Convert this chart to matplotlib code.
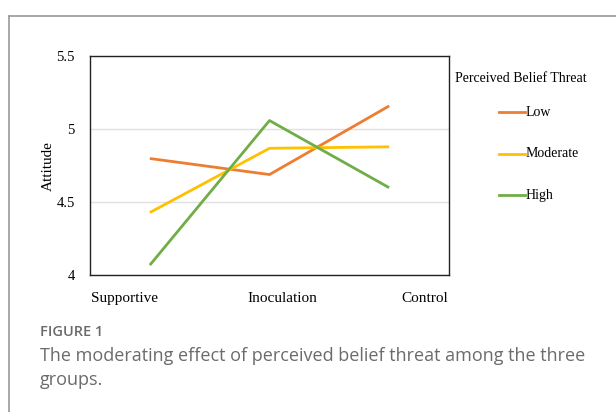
import matplotlib.pyplot as plt
from matplotlib.lines import Line2D

# Data
groups = ['Supportive', 'Inoculation', 'Control']
low = [4.80, 4.69, 5.16]
moderate = [4.43, 4.87, 4.88]
high = [4.07, 5.06, 4.60]
series_names = ['Low', 'Moderate', 'High']
y_ticks = [4, 4.5, 5, 5.5]
y_tick_labels = ['4', '4.5', '5', '5.5']

colors = ['#ED7D31', '#FFC000', '#70AD47']
serif = ['Liberation Serif', 'DejaVu Serif']

fig = plt.figure(figsize=(6.16, 4.12), dpi=100)
W, H = 616, 412

# Outer page frame (left and top edge)
fig.add_artist(Line2D([9 / W, 9 / W], [0, 1 - 16 / H], color='#9a9a9a', lw=1.2))
fig.add_artist(Line2D([9 / W, 1], [1 - 16 / H, 1 - 16 / H], color='#9a9a9a', lw=1.2))

# Plot area: x 90..449, y 56..275 px
ax = fig.add_axes([90 / W, 1 - 275.3 / H, 359 / W, 219 / H])
x = range(len(groups))
for vals, name, c in zip([low, moderate, high], series_names, colors):
    ax.plot(x, vals, color=c, lw=2.0, label=name, solid_capstyle='butt')

ax.set_xlim(-0.5, 2.5)
ax.set_ylim(4, 5.5)
ax.set_yticks(y_ticks)
ax.set_yticklabels(y_tick_labels, fontfamily=serif, fontsize=10.5)
# category labels in the original sit spread out, not under the points
ax.set_xticks([-0.21, 1.11, 2.30])
ax.set_xticklabels(groups, fontfamily=serif, fontsize=11)
ax.tick_params(length=0)
ax.tick_params(axis='y', pad=11)
ax.tick_params(axis='x', pad=12)
ax.grid(axis='y', color='#e0e0e0', lw=1)
ax.set_axisbelow(True)
for s in ax.spines.values():
    s.set_color('#222222')
    s.set_linewidth(1.0)
ax.set_ylabel('Attitude', fontfamily=serif, fontsize=11, labelpad=1)

# Legend
fig.text(455 / W, 1 - 78 / H, 'Perceived Belief Threat', fontfamily=serif,
         fontsize=10, va='center', ha='left')
for i, (name, c) in enumerate(zip(series_names, colors)):
    yy = 1 - (112 + 41.5 * i) / H
    fig.add_artist(Line2D([499 / W, 525 / W], [yy, yy], color=c, lw=2.0))
    fig.text(526 / W, yy, name, fontfamily=serif, fontsize=10, va='center', ha='left')

# Caption
fig.text(40 / W, 1 - 332 / H, 'FIGURE 1', fontfamily='Open Sans', fontweight='semibold',
         fontsize=10.5, color='#6b6b6b', va='center', ha='left')
fig.text(40 / W, 1 - 356 / H, 'The moderating effect of perceived belief threat among the three',
         fontfamily='Open Sans', fontsize=13, color='#6b6b6b', va='center', ha='left')
fig.text(40 / W, 1 - 380 / H, 'groups.',
         fontfamily='Open Sans', fontsize=13, color='#6b6b6b', va='center', ha='left')

fig.savefig('out.png', dpi=100)
